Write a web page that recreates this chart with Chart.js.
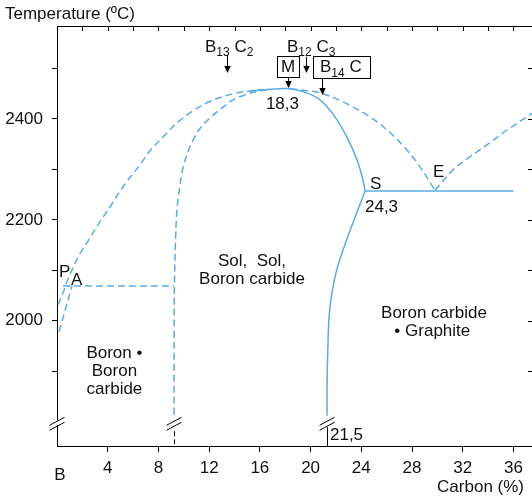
<!DOCTYPE html>
<html><head><meta charset="utf-8">
<script src="https://cdn.jsdelivr.net/npm/chart.js@4"></script>
<style>html,body{margin:0;padding:0;overflow:hidden;background:#fff}#wrap{width:540px;height:500px}</style>
</head><body><div id="wrap"><canvas id="c" width="540" height="500"></canvas></div>
<script>
// ---- data ----
const xTickValues = [4, 8, 12, 16, 20, 24, 28, 32, 36];
const xTopTickValues = [2, 4, 6, 8, 10, 12, 14, 16, 18, 20, 22, 24, 26, 28, 30, 32, 34, 36];
const yTickValues = [1900, 2000, 2100, 2200, 2300, 2400, 2500];
const yLabelledValues = [2000, 2200, 2400];

// [carbon %, temperature °C]
const liquidusSolid = [[15.22,2455],[16.8,2458.5],[18.14,2460],[19.4,2454],[20.5,2442],[21.3,2424],[22.08,2398],[22.87,2364],[23.66,2319],[24.13,2279],[24.3,2257]];
const eutecticLine = [[24.3,2257],[36,2257]];
const solidusRight = [[24.3,2257],[23.34,2194],[22.6,2143],[22.05,2100],[21.68,2055],[21.46,2008],[21.36,1943],[21.3,1877],[21.3,1812]];
const liquidusLeft = [[0.08,2032],[0.47,2055],[0.87,2083],[1.34,2109],[1.81,2133],[2.44,2158],[3.15,2187],[4.18,2226],[5.36,2271],[6.55,2309],[7.33,2337],[8.36,2364],[9.46,2392],[10.49,2412],[11.83,2432],[13.09,2444],[14.2,2451.5],[15.22,2455.4],[16.25,2458.4]];
const solidusLeft = [[9.23,1814],[9.24,1982],[9.27,2081],[9.35,2160],[9.46,2220],[9.7,2269],[9.94,2303],[10.33,2335],[10.73,2358],[11.28,2381],[12.07,2402],[12.93,2420],[13.88,2437.6],[14.83,2447.5],[15.77,2454.5],[16.8,2458.4]];
const liquidusB14C = [[18.38,2459.4],[19.56,2456.4],[20.74,2451.5],[22.56,2433.7],[24.68,2404],[26.03,2378],[27.44,2342.6],[28.63,2305],[29.81,2258.4]];
const liquidusGraphite = [[29.81,2258.4],[31.23,2299],[32.57,2325],[33.91,2348.5],[35.49,2378],[37.3,2408],[37.62,2413]];
const peritecticLine = [[0.47,2069],[9.23,2069]];
const boronSolidus = [[0.16,1978],[1.18,2069]];

// ---- chart ----
const BLUE = '#5aabe3';
const FONT = '"Liberation Sans", Arial, Helvetica, sans-serif';
function ds(arr, dashed) {
  return {
    data: arr.map(([x, y]) => ({x, y})),
    borderColor: BLUE, borderWidth: 1.5, pointRadius: 0, fill: false,
    tension: 0.35, borderDash: dashed ? [7, 4] : []
  };
}

function richText(ctx, parts, x, yBase, align) {
  const main = '17px ' + FONT, sub = '12px ' + FONT;
  let w = 0;
  parts.forEach(p => { ctx.font = p.sub ? sub : main; w += ctx.measureText(p.t).width; });
  let cx = align === 'center' ? x - w / 2 : (align === 'right' ? x - w : x);
  ctx.textAlign = 'left'; ctx.textBaseline = 'alphabetic';
  parts.forEach(p => {
    ctx.font = p.sub ? sub : main;
    ctx.fillText(p.t, cx, yBase + (p.sub ? 4.5 : 0));
    cx += ctx.measureText(p.t).width;
  });
  return w;
}
function arrow(ctx, X, y1, y2) {
  ctx.beginPath(); ctx.moveTo(X, y1); ctx.lineTo(X, y2 - 5); ctx.stroke();
  ctx.beginPath(); ctx.moveTo(X, y2); ctx.lineTo(X - 3.2, y2 - 7); ctx.lineTo(X + 3.2, y2 - 7); ctx.closePath(); ctx.fill();
}

const decor = {
  id: 'decor',
  afterDraw(chart) {
    const {ctx, chartArea: a, scales: {x, y}} = chart;
    const px = v => x.getPixelForValue(v), py = v => y.getPixelForValue(v);
    ctx.save();
    ctx.strokeStyle = '#000'; ctx.fillStyle = '#111'; ctx.lineWidth = 1;
    // top & right frame
    ctx.beginPath();
    ctx.moveTo(a.left, a.top + 0.5); ctx.lineTo(a.right, a.top + 0.5);
    ctx.moveTo(a.right - 0.5, a.top); ctx.lineTo(a.right - 0.5, a.bottom);
    ctx.stroke();
    // inner ticks top/right
    ctx.beginPath();
    xTopTickValues.forEach(v => { const X = Math.round(px(v)) + 0.5; ctx.moveTo(X, a.top); ctx.lineTo(X, a.top + 5); });
    yTickValues.forEach(v => { const Y = Math.round(py(v)) + 0.5; ctx.moveTo(a.right - 6, Y); ctx.lineTo(a.right, Y); });
    ctx.stroke();

    // axis breaks
    const brkT = 1797;
    function brk(v) {
      const cx = px(v), cy = py(brkT);
      ctx.save(); ctx.fillStyle = '#fff';
      ctx.beginPath(); ctx.moveTo(cx - 7, cy + 6.5); ctx.lineTo(cx + 7, cy - 1.5); ctx.lineTo(cx + 7, cy - 6.5); ctx.lineTo(cx - 7, cy + 1.5); ctx.closePath(); ctx.fill();
      ctx.restore();
      ctx.beginPath();
      ctx.moveTo(cx - 7.5, cy + 7); ctx.lineTo(cx + 7.5, cy - 1);
      ctx.moveTo(cx - 7.5, cy + 2); ctx.lineTo(cx + 7.5, cy - 6);
      ctx.stroke();
    }
    brk(0); brk(9.23); brk(21.3);
    // continuation below breaks
    ctx.beginPath(); ctx.setLineDash([5, 3]);
    ctx.moveTo(Math.round(px(9.23)) + 0.5, py(brkT) + 8); ctx.lineTo(Math.round(px(9.23)) + 0.5, a.bottom);
    ctx.stroke(); ctx.setLineDash([]);
    ctx.beginPath();
    ctx.moveTo(Math.round(px(21.3)) + 0.5, py(brkT) + 4); ctx.lineTo(Math.round(px(21.3)) + 0.5, a.bottom);
    ctx.stroke();

    // axis titles
    ctx.font = '17px ' + FONT; ctx.textBaseline = 'alphabetic';
    ctx.textAlign = 'left'; ctx.fillText('Temperature (ºC)', 5, 19);
    ctx.textAlign = 'right'; ctx.fillText('Carbon (%)', 524, 492);
    ctx.textAlign = 'center'; ctx.fillText('B', px(0.24), a.bottom + 34);

    // point labels
    const T = (s, cx, ty, al) => richText(ctx, [{t: s}], px(cx), py(ty), al);
    T('18,3', 17.78, 2420, 'center');
    T('24,3', 24.29, 2216, 'left');
    T('21,5', 21.53, 1764, 'left');
    T('S', 24.68, 2261, 'left');
    T('E', 29.65, 2284, 'left');
    T('P', 0.16, 2087, 'left');
    T('A', 1.10, 2071, 'left');
    // region labels
    T('Boron •', 4.53, 1927, 'center');
    T('Boron', 4.53, 1891, 'center');
    T('carbide', 4.53, 1855, 'center');
    T('Sol,  Sol,', 15.38, 2109, 'center');
    T('Boron carbide', 15.38, 2073, 'center');
    T('Boron carbide', 29.73, 2006, 'center');
    T('• Graphite', 29.6, 1970, 'center');

    // compound labels
    richText(ctx, [{t:'B'},{t:'13',sub:true},{t:' C'},{t:'2',sub:true}], px(11.67), py(2533), 'left');
    richText(ctx, [{t:'B'},{t:'12',sub:true},{t:' C'},{t:'3',sub:true}], px(18.14), py(2533), 'left');
    // M box
    richText(ctx, [{t:'M'}], px(18.22), py(2492), 'center');
    ctx.strokeRect(Math.round(px(17.35)) + 0.5, Math.round(py(2525)) + 0.5, Math.round(px(19.09) - px(17.35)), Math.round(py(2483) - py(2525)));
    // B14C box
    richText(ctx, [{t:'B'},{t:'14',sub:true},{t:' C'}], px(20.74), py(2492), 'left');
    ctx.strokeRect(Math.round(px(20.19)) + 0.5, Math.round(py(2525)) + 0.5, Math.round(px(24.68) - px(20.19)), Math.round(py(2481) - py(2525)));
    // arrows
    ctx.fillStyle = '#000';
    arrow(ctx, Math.round(px(13.41)) + 0.5, py(2527), py(2491));
    arrow(ctx, Math.round(px(19.64)) + 0.5, py(2523), py(2491));
    arrow(ctx, Math.round(px(18.22)) + 0.5, py(2483), py(2461));
    arrow(ctx, Math.round(px(20.9)) + 0.5, py(2481), py(2447.5));
    ctx.restore();
  }
};

new Chart(document.getElementById('c'), {
  type: 'line',
  data: {
    datasets: [
      ds(liquidusSolid, false), ds(eutecticLine, false), ds(solidusRight, false),
      ds(liquidusLeft, true), ds(solidusLeft, true), ds(liquidusB14C, true),
      ds(liquidusGraphite, true), ds(peritecticLine, true), ds(boronSolidus, true)
    ]
  },
  options: {
    responsive: false, animation: false,
    layout: {padding: {top: 26, right: 6, left: 0, bottom: 0}},
    plugins: {legend: {display: false}, tooltip: {enabled: false}},
    scales: {
      x: {
        type: 'linear', min: 0, max: 37.62,
        afterBuildTicks: s => { s.ticks = xTickValues.map(v => ({value: v})); },
        afterFit: s => { s.height = 54; },
        grid: {drawOnChartArea: false, tickLength: 6, color: '#000', lineWidth: 1},
        border: {color: '#000', width: 1},
        ticks: {color: '#111', font: {family: FONT, size: 17}, padding: 6, maxRotation: 0, autoSkip: false, callback: v => String(v)}
      },
      y: {
        type: 'linear', min: 1752, max: 2584,
        afterBuildTicks: s => { s.ticks = yTickValues.map(v => ({value: v})); },
        afterFit: s => { s.width = 57; },
        grid: {drawOnChartArea: false, tickLength: 5, color: '#000', lineWidth: 1},
        border: {color: '#000', width: 1},
        ticks: {color: '#111', font: {family: FONT, size: 17}, padding: 9, autoSkip: false,
          callback: v => yLabelledValues.includes(v) ? String(v) : ''}
      }
    }
  },
  plugins: [decor]
});
</script></body></html>
